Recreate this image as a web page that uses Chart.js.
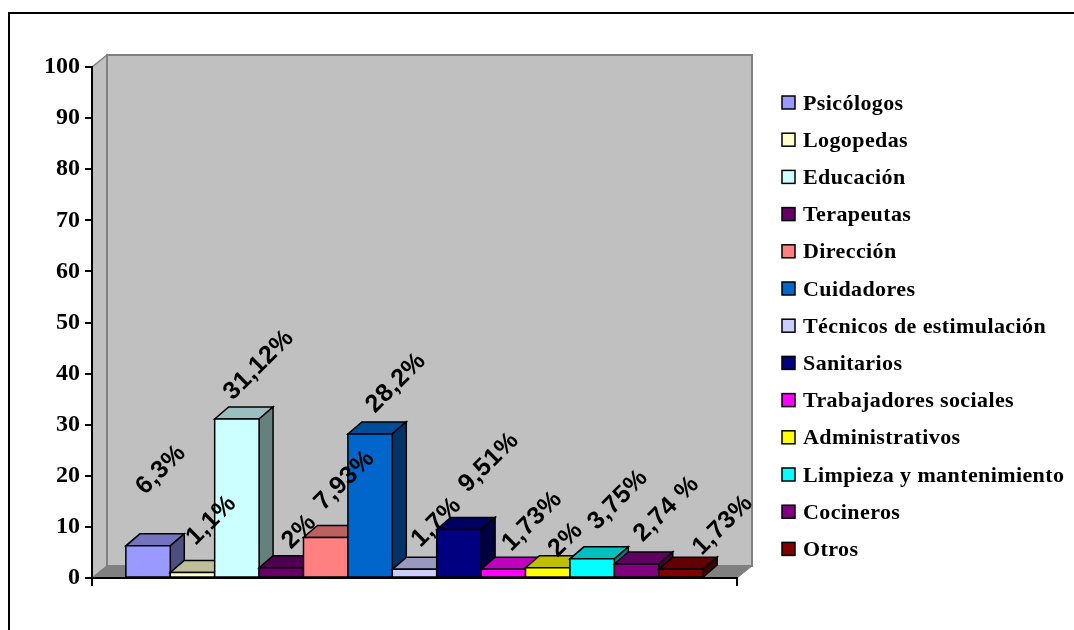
<!DOCTYPE html>
<html>
<head>
<meta charset="utf-8">
<script src="https://cdn.jsdelivr.net/npm/chart.js@4.4.1/dist/chart.umd.min.js"></script>
<style>
  html, body { margin: 0; padding: 0; background: #fff; }
  #wrap { width: 1074px; height: 630px; }
</style>
</head>
<body>
<div id="wrap"><canvas id="chart" width="1074" height="630"></canvas></div>
<script>
// staff distribution by profession (%)
const categories = ['Psicólogos', 'Logopedas', 'Educación', 'Terapeutas', 'Dirección', 'Cuidadores',
  'Técnicos de estimulación', 'Sanitarios', 'Trabajadores sociales', 'Administrativos',
  'Limpieza y mantenimiento', 'Cocineros', 'Otros'];
const values = [6.3, 1.1, 31.12, 2, 7.93, 28.2, 1.7, 9.51, 1.73, 2, 3.75, 2.74, 1.73];
const valueLabels = ['6,3%', '1,1%', '31,12%', '2%', '7,93%', '28,2%', '1,7%', '9,51%', '1,73%', '2%', '3,75%', '2,74 %', '1,73%'];
const colors = ['#9999FF', '#FFFFCC', '#CCFFFF', '#660066', '#FF8080', '#0066CC', '#CCCCFF',
  '#000080', '#FF00FF', '#FFFF00', '#00FFFF', '#800080', '#800000'];
const yMin = 0, yMax = 100, yStep = 10;

// where each rotated label sits, relative to the top of its bar
const labelNudge = [[13, -76], [19, -52], [22, -54], [18, -36], [19, -57], [26, -51], [22, -47],
  [30, -67], [29, -48], [18, -28], [26, -59], [30, -55], [42, -44]];

const WALL_DX = 15, WALL_DY = 12;
const BAR_DX = 14, BAR_DY = 12;

function shade(hex, f) {
  const n = parseInt(hex.slice(1), 16);
  const r = Math.round(((n >> 16) & 255) * f);
  const g = Math.round(((n >> 8) & 255) * f);
  const b = Math.round((n & 255) * f);
  return `rgb(${r},${g},${b})`;
}

function poly(ctx, pts, fill, stroke, lw) {
  ctx.beginPath();
  ctx.moveTo(pts[0][0], pts[0][1]);
  for (let i = 1; i < pts.length; i++) ctx.lineTo(pts[i][0], pts[i][1]);
  ctx.closePath();
  if (fill) { ctx.fillStyle = fill; ctx.fill(); }
  if (stroke) { ctx.strokeStyle = stroke; ctx.lineWidth = lw || 1; ctx.stroke(); }
}

// grey walls and floor behind the bars
const wallsPlugin = {
  id: 'walls',
  beforeDraw(chart) {
    const ctx = chart.ctx;
    const area = chart.chartArea;
    const y = chart.scales.y;
    const top = y.getPixelForValue(yMax), bottom = y.getPixelForValue(yMin);
    const l = area.left, r = area.right;
    ctx.save();
    ctx.fillStyle = '#fff';
    ctx.fillRect(0, 0, chart.width, chart.height);
    ctx.lineJoin = 'miter';
    poly(ctx, [[l, top], [l + WALL_DX, top - WALL_DY], [l + WALL_DX, bottom - WALL_DY], [l, bottom]], '#C0C0C0', '#808080', 1.5);
    poly(ctx, [[l + WALL_DX, top - WALL_DY], [r + WALL_DX, top - WALL_DY], [r + WALL_DX, bottom - WALL_DY], [l + WALL_DX, bottom - WALL_DY]], '#C0C0C0', '#808080', 2);
    poly(ctx, [[l, bottom], [r, bottom], [r + WALL_DX, bottom - WALL_DY], [l + WALL_DX, bottom - WALL_DY]], '#808080', '#808080', 1);
    ctx.restore();
  }
};

// front, top and side faces of each bar, left to right
const bars3dPlugin = {
  id: 'bars3d',
  afterDatasetsDraw(chart) {
    const ctx = chart.ctx;
    ctx.save();
    ctx.lineJoin = 'miter';
    chart.data.datasets.forEach((ds, i) => {
      const el = chart.getDatasetMeta(i).data[0];
      if (!el) return;
      const { x, y, base, width } = el.getProps(['x', 'y', 'base', 'width'], true);
      const l = x - width / 2, r = x + width / 2;
      const c = colors[i];
      poly(ctx, [[l, y], [r, y], [r + BAR_DX, y - BAR_DY], [l + BAR_DX, y - BAR_DY]], shade(c, 0.75), '#000', 1.5);
      poly(ctx, [[r, y], [r + BAR_DX, y - BAR_DY], [r + BAR_DX, base - BAR_DY], [r, base]], shade(c, 0.5), '#000', 1.5);
      poly(ctx, [[l, y], [r, y], [r, base], [l, base]], c, '#000', 1.5);
    });
    // value labels, turned 45 degrees
    ctx.fillStyle = '#000';
    ctx.font = 'bold 25px "Liberation Sans", Arial, sans-serif';
    ctx.letterSpacing = '0.5px';
    ctx.textAlign = 'center';
    ctx.textBaseline = 'middle';
    chart.data.datasets.forEach((ds, i) => {
      const el = chart.getDatasetMeta(i).data[0];
      const { x, y } = el.getProps(['x', 'y'], true);
      ctx.save();
      ctx.translate(x + labelNudge[i][0], y + labelNudge[i][1]);
      ctx.rotate(-Math.PI / 4);
      ctx.fillText(valueLabels[i], 0, 0);
      ctx.restore();
    });
    ctx.restore();
  },
  afterDraw(chart) {
    const ctx = chart.ctx;
    ctx.save();
    // legend
    ctx.font = 'bold 22px "Liberation Serif", "Times New Roman", serif';
    ctx.letterSpacing = '0.4px';
    ctx.textAlign = 'left';
    ctx.textBaseline = 'middle';
    chart.data.datasets.forEach((ds, i) => {
      const cy = 103 + i * 37.2;
      ctx.fillStyle = ds.backgroundColor;
      ctx.fillRect(782, cy - 7, 13, 13);
      ctx.strokeStyle = '#000';
      ctx.lineWidth = 1.5;
      ctx.strokeRect(782, cy - 7, 13, 13);
      ctx.fillStyle = '#000';
      ctx.fillText(ds.label, 803, cy + 1);
    });
    // outer frame
    ctx.strokeStyle = '#000';
    ctx.lineWidth = 2;
    ctx.beginPath();
    ctx.moveTo(9, 630);
    ctx.lineTo(9, 13);
    ctx.lineTo(1074, 13);
    ctx.stroke();
    ctx.restore();
  }
};

const datasets = categories.map((name, i) => ({
  label: name,
  data: [values[i]],
  backgroundColor: colors[i],
  borderColor: '#000',
  borderWidth: 1
}));

new Chart(document.getElementById('chart'), {
  type: 'bar',
  data: { labels: [''], datasets },
  options: {
    responsive: false,
    devicePixelRatio: 1,
    animation: false,
    layout: { padding: { top: 67, right: 337, bottom: 0, left: 0 } },
    datasets: { bar: { categoryPercentage: 0.895, barPercentage: 1 } },
    plugins: { legend: { display: false }, tooltip: { enabled: false } },
    scales: {
      x: {
        ticks: { display: false },
        grid: { offset: true, drawOnChartArea: false, color: '#000', lineWidth: 2, tickLength: 8 },
        border: { color: '#000', width: 2 },
        afterFit(scale) { scale.height = 52; }
      },
      y: {
        min: yMin,
        max: yMax,
        ticks: {
          stepSize: yStep,
          padding: 5,
          color: '#000',
          font: { family: '"Liberation Serif", "Times New Roman", serif', weight: 'bold', size: 24 }
        },
        grid: { drawOnChartArea: false, color: '#000', lineWidth: 2, tickLength: 7 },
        border: { color: '#000', width: 2 },
        afterFit(scale) { scale.width = 92; }
      }
    }
  },
  plugins: [wallsPlugin, bars3dPlugin]
});
</script>
</body>
</html>
